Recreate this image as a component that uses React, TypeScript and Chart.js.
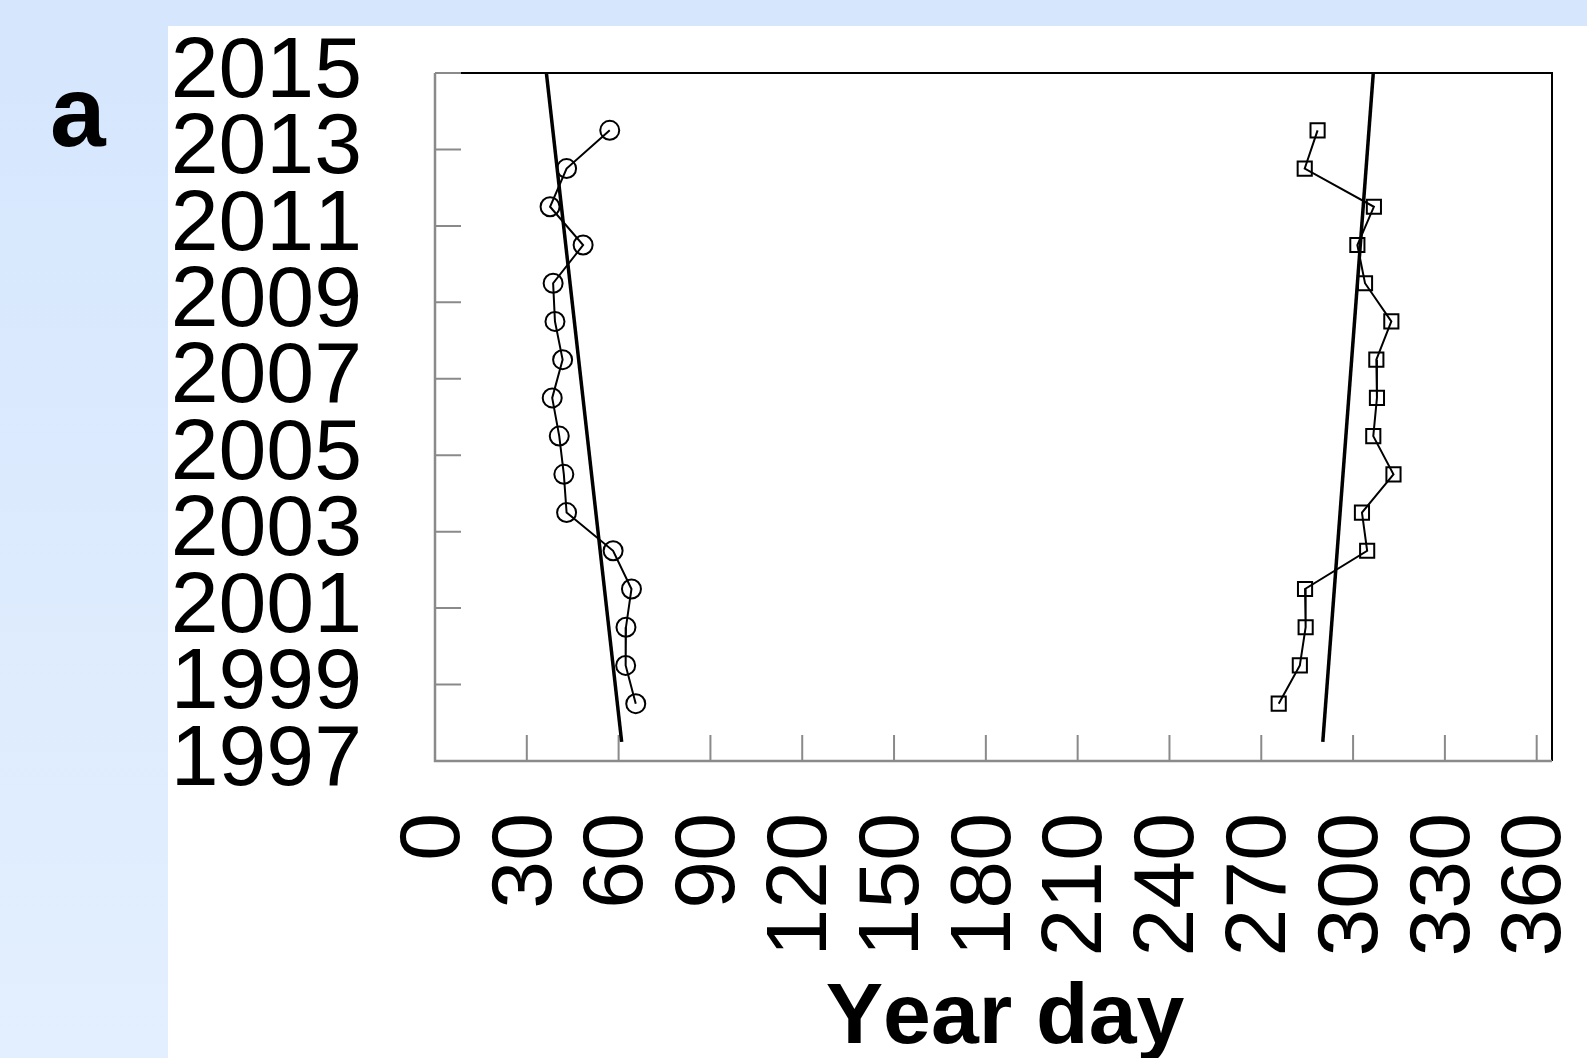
import React, { useEffect, useRef } from "react";
import { Chart, registerables } from "chart.js";

Chart.register(...registerables);

const W = 1587;
const H = 1058;
const FONT = '"Liberation Sans", Arial, Helvetica, sans-serif';

// Years (points are plotted at mid-year)
const years = [2013, 2012, 2011, 2010, 2009, 2008, 2007, 2006, 2005, 2004, 2003, 2002, 2001, 2000, 1999, 1998];
// Spring (circles) year day
const springDay = [57.1, 43.0, 37.6, 48.4, 38.6, 39.2, 41.7, 38.3, 40.6, 42.1, 43.0, 58.2, 64.2, 62.4, 62.3, 65.6];
// Autumn (squares) year day
const autumnDay = [288.4, 284.2, 306.8, 301.4, 303.9, 312.5, 307.6, 307.8, 306.6, 313.2, 302.9, 304.6, 284.3, 284.5, 282.6, 275.7];
// Linear trends
const trendYears = [1997.5, 2015];
const springTrend = [61.0, 36.4];
const autumnTrend = [290.1, 306.6];
// Tick labels
const yearTicks = [1997, 1999, 2001, 2003, 2005, 2007, 2009, 2011, 2013, 2015];
const dayTicks = [0, 30, 60, 90, 120, 150, 180, 210, 240, 270, 300, 330, 360];
const panelLabel = "a";
const xTitle = "Year day";

const decorPlugin = {
  id: "decor",
  beforeDraw(chart: any) {
    const ctx = chart.ctx;
    ctx.fontKerning = "none";
    ctx.save();
    const g = ctx.createLinearGradient(0, 0, 0, H);
    g.addColorStop(0, "#d5e6fd");
    g.addColorStop(1, "#e3effe");
    ctx.fillStyle = g;
    ctx.fillRect(0, 0, W, H);
    ctx.fillStyle = "#ffffff";
    ctx.fillRect(168, 26, W - 168, H - 26);
    ctx.fillStyle = "#000";
    ctx.font = `bold 100px ${FONT}`;
    ctx.textAlign = "left";
    ctx.textBaseline = "alphabetic";
    ctx.fillText(panelLabel, 50, 146);
    // x-axis title
    ctx.font = `bold 86px ${FONT}`;
    ctx.textAlign = "center";
    ctx.fillText(xTitle, 1005, 1043);
    ctx.restore();
  },
  beforeDatasetsDraw(chart: any) {
    const ctx = chart.ctx;
    const { left, right, top, bottom } = chart.chartArea;
    const xs = chart.scales.x;
    const ys = chart.scales.y;
    ctx.save();
    ctx.lineCap = "butt";
    // black frame (top, right)
    ctx.strokeStyle = "#000";
    ctx.lineWidth = 2;
    ctx.beginPath();
    ctx.moveTo(left, top);
    ctx.lineTo(right, top);
    ctx.lineTo(right, bottom);
    ctx.stroke();
    // gray axes (left, bottom)
    ctx.strokeStyle = "#8a8a8a";
    ctx.lineWidth = 2.5;
    ctx.beginPath();
    ctx.moveTo(left, top);
    ctx.lineTo(left, bottom);
    ctx.lineTo(right, bottom);
    ctx.stroke();
    // inner ticks
    ctx.lineWidth = 2;
    ctx.beginPath();
    xs.ticks.forEach((t: any) => {
      const px = xs.getPixelForValue(t.value);
      ctx.moveTo(px, bottom);
      ctx.lineTo(px, bottom - 26);
    });
    ys.ticks.forEach((t: any) => {
      const py = ys.getPixelForValue(t.value);
      ctx.moveTo(left, py);
      ctx.lineTo(left + 26, py);
    });
    ctx.stroke();
    ctx.restore();
  },
};

const zeroPad = (s: any) => {
  s.paddingTop = 0;
  s.paddingBottom = 0;
  s.paddingLeft = 0;
  s.paddingRight = 0;
};

export default function App() {
  const ref = useRef<HTMLCanvasElement | null>(null);

  useEffect(() => {
    const canvas = ref.current;
    if (!canvas) return;
    const pointSet = (ds: number[]) => ds.map((d, i) => ({ x: d, y: years[i] + 0.5 }));
    const lineSet = (ds: number[]) => ds.map((d, i) => ({ x: d, y: trendYears[i] }));
    const seriesStyle = {
      showLine: true,
      borderColor: "#000",
      borderWidth: 2,
      pointBorderColor: "#000",
      pointBackgroundColor: "rgba(0,0,0,0)",
      pointBorderWidth: 2,
      pointHoverRadius: 10,
      tension: 0,
    };
    const chart = new Chart(canvas, {
      type: "scatter",
      data: {
        datasets: [
          { ...seriesStyle, label: "Spring", data: pointSet(springDay), pointStyle: "circle", pointRadius: 9.5 },
          { ...seriesStyle, label: "Autumn", data: pointSet(autumnDay), pointStyle: "rect", pointRadius: 10 },
          { label: "Spring trend", data: lineSet(springTrend), showLine: true, borderColor: "#000", borderWidth: 3.5, pointRadius: 0 },
          { label: "Autumn trend", data: lineSet(autumnTrend), showLine: true, borderColor: "#000", borderWidth: 3.5, pointRadius: 0 },
        ],
      },
      plugins: [decorPlugin],
      options: {
        animation: false,
        responsive: false,
        devicePixelRatio: 1,
        events: [],
        layout: { padding: { left: 168, top: 73, right: 35, bottom: 0 } },
        plugins: { legend: { display: false }, tooltip: { enabled: false }, title: { display: false } },
        scales: {
          x: {
            type: "linear",
            min: 0,
            max: 365,
            afterBuildTicks: (s: any) => {
              s.ticks = dayTicks.map((v) => ({ value: v }));
            },
            afterFit: (s: any) => {
              s.height = 297;
              zeroPad(s);
            },
            grid: { display: false, drawTicks: false },
            border: { display: false },
            ticks: {
              autoSkip: false,
              minRotation: 90,
              maxRotation: 90,
              padding: 52,
              color: "#000",
              font: { family: FONT, size: 86 },
              callback: (v: any) => String(v),
            },
            title: { display: false },
          },
          y: {
            type: "linear",
            min: 1997,
            max: 2015,
            afterBuildTicks: (s: any) => {
              s.ticks = yearTicks.map((v) => ({ value: v }));
            },
            afterFit: (s: any) => {
              s.width = 267;
              zeroPad(s);
            },
            grid: { display: false, drawTicks: false },
            border: { display: false },
            ticks: {
              autoSkip: false,
              padding: 73,
              color: "#000",
              font: { family: FONT, size: 86 },
              callback: (v: any) => String(v),
            },
          },
        },
      } as any,
    });
    return () => chart.destroy();
  }, []);

  return (
    <div style={{ position: "fixed", left: 0, top: 0, width: W, height: H, overflow: "hidden" }}>
      <canvas ref={ref} width={W} height={H} style={{ width: W, height: H, display: "block" }} />
    </div>
  );
}
